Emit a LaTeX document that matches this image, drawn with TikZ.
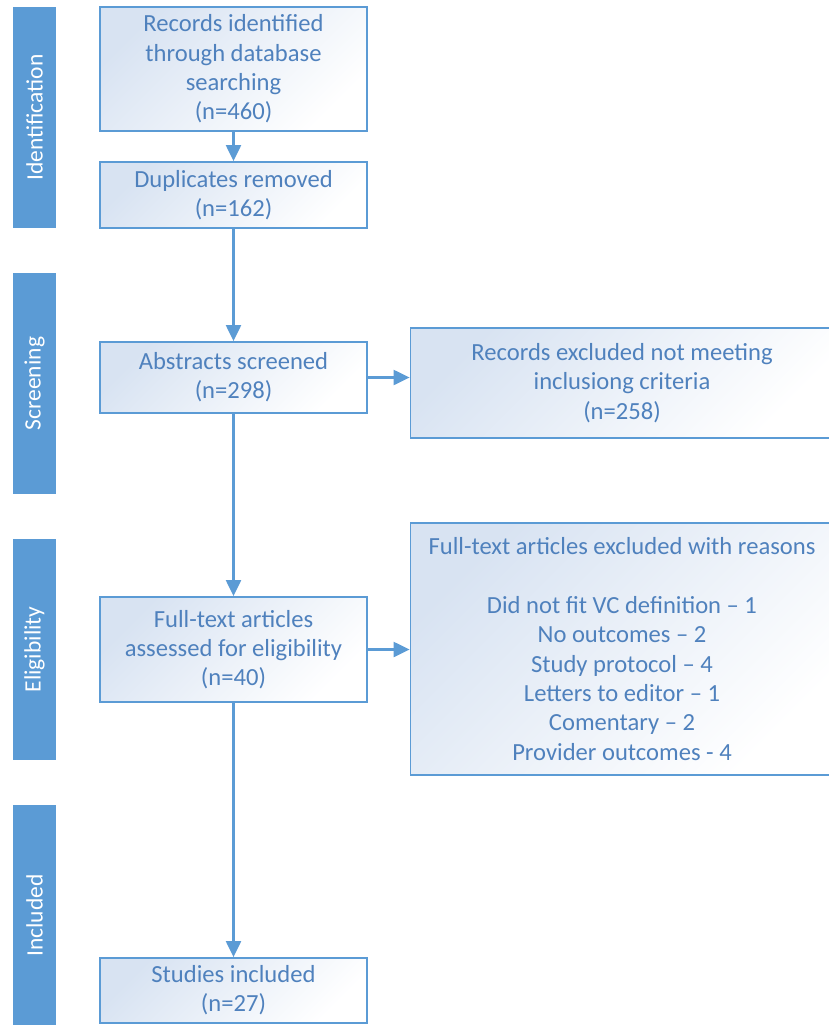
\documentclass[tikz,border=0pt]{standalone}
\usepackage{fontspec}
\setmainfont{Carlito}
\usetikzlibrary{arrows.meta}
\definecolor{barblue}{RGB}{91,155,213}
\definecolor{linblue}{RGB}{91,155,213}
\definecolor{txtblue}{RGB}{79,129,189}
\definecolor{fillblue}{RGB}{216,227,242}
\tikzset{
  box/.style={draw=linblue, line width=1.8pt, top color=fillblue, bottom color=white,
    shading angle=45, text=txtblue, align=center,
    font=\fontsize{24.6}{29.3}\selectfont, inner sep=0pt, minimum width=267pt},
  phase/.style={fill=barblue, text=white, rotate=90, inner sep=0pt,
    font=\fontsize{23.5}{28}\selectfont, minimum width=221pt, minimum height=43pt},
  arr/.style={draw=linblue, line width=2.2pt, -{Triangle[width=15pt,length=16pt]}}
}
\begin{document}
\begin{tikzpicture}[x=1pt,y=-1pt]
\path[use as bounding box, clip] (0,0) rectangle (829,1025);
\fill[white] (0,0) rectangle (829,1025);
% phase bars
\node[phase] (p1) at (34.5,117.5) {Identification};
\node[phase] (p2) at (34.5,383.5) {Screening};
\node[phase] (p3) at (34.5,649.5) {Eligibility};
\node[phase] (p4) at (34.5,915.5) {Included};
% main boxes
\node[box, minimum height=124pt] (b1) at (233.5,69) {Records identified\\through database\\searching\\(n=460)};
\node[box, minimum height=66pt] (b2) at (233.5,195) {Duplicates removed\\(n=162)};
\node[box, minimum height=71pt] (b3) at (233.5,377.5) {Abstracts screened\\(n=298)};
\node[box, minimum height=105pt] (b4) at (233.5,649.5) {Full-text articles\\assessed for eligibility\\(n=40)};
\node[box, minimum height=65pt] (b5) at (233.5,990.5) {Studies included\\(n=27)};
% side boxes
\node[box, minimum width=423pt, minimum height=110pt] (x1) at (622,383) {Records excluded not meeting\\inclusiong criteria\\(n=258)};
\node[box, minimum width=423pt, minimum height=252pt] (x2) at (622,649) {Full-text articles excluded with reasons\\[29.3pt]Did not fit VC definition -- 1\\No outcomes -- 2\\Study protocol -- 4\\Letters to editor -- 1\\Comentary -- 2\\Provider outcomes - 4};
% arrows
\draw[arr] (b1) -- (b2);
\draw[arr] (b2) -- (b3);
\draw[arr] (b3) -- (b4);
\draw[arr] (b4) -- (b5);
\draw[arr] (b3.east) -- (b3.east -| x1.west);
\draw[arr] (b4.east) -- (b4.east -| x2.west);
\end{tikzpicture}
\end{document}
